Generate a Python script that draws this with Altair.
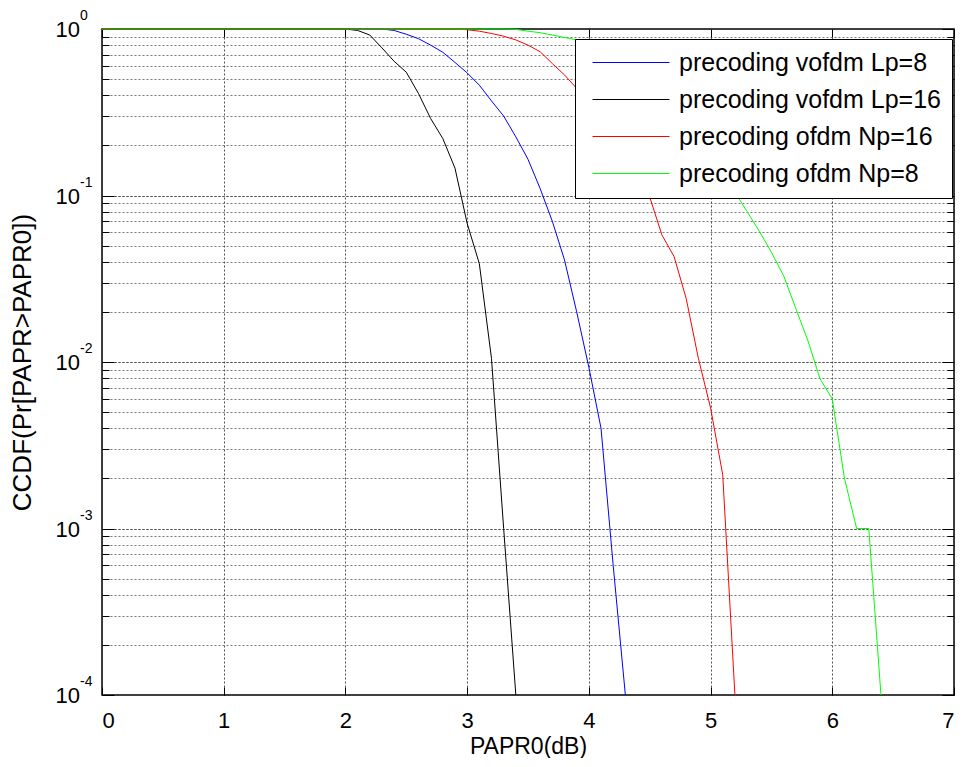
import altair as alt
import pandas as pd

# ---------------- data ----------------
series_names = ["precoding vofdm Lp=8", "precoding vofdm Lp=16",
                "precoding ofdm Np=16", "precoding ofdm Np=8"]
series_colors = ["#0000FF", "#000000", "#FF0000", "#00FF00"]

# precoding vofdm Lp=8 (blue)
blue_x = [0, 2.3, 2.4, 2.5, 2.6, 2.7, 2.8, 2.9, 3.0, 3.1, 3.2, 3.3, 3.4, 3.5,
          3.6, 3.7, 3.8, 3.9, 4.0, 4.1, 4.2, 4.3]
blue_y = [1.0, 1.0, 0.98, 0.93, 0.875, 0.80, 0.725, 0.63, 0.545, 0.46, 0.37,
          0.30, 0.225, 0.165, 0.11, 0.07, 0.041, 0.02, 0.0093, 0.0040, 0.0006, 0.0001]

# precoding vofdm Lp=16 (black)
black_x = [0, 2.0, 2.1, 2.2, 2.3, 2.4, 2.5, 2.6, 2.7, 2.8, 2.9, 3.0, 3.1, 3.2, 3.3, 3.4]
black_y = [1.0, 1.0, 0.98, 0.92, 0.77, 0.64, 0.55, 0.41, 0.29, 0.22, 0.146,
           0.068, 0.039, 0.0105, 0.001, 0.0001]

# precoding ofdm Np=16 (red)
red_x = [0, 2.9, 3.0, 3.1, 3.2, 3.3, 3.4, 3.5, 3.6, 3.7, 3.8, 3.9, 4.0, 4.1,
         4.2, 4.3, 4.4, 4.5, 4.6, 4.7, 4.8, 4.9, 5.0, 5.1, 5.2]
red_y = [1.0, 1.0, 0.99, 0.97, 0.94, 0.905, 0.86, 0.80, 0.73, 0.62, 0.53, 0.44,
         0.37, 0.30, 0.235, 0.18, 0.135, 0.098, 0.058, 0.043, 0.024, 0.0105,
         0.0053, 0.0021, 0.0001]

# precoding ofdm Np=8 (green)
green_x = [0, 3.3, 3.4, 3.5, 3.6, 3.7, 3.8, 3.9, 4.0, 4.1, 4.2, 4.3, 4.4, 4.5,
           4.6, 4.7, 4.8, 4.9, 5.0, 5.1, 5.2, 5.3, 5.4, 5.5, 5.6, 5.7, 5.8, 5.9,
           6.0, 6.1, 6.2, 6.3, 6.4]
green_y = [1.0, 1.0, 0.995, 0.97, 0.95, 0.92, 0.89, 0.86, 0.82, 0.77, 0.71, 0.64,
           0.56, 0.48, 0.40, 0.33, 0.26, 0.205, 0.16, 0.13, 0.105, 0.08, 0.061,
           0.0456, 0.033, 0.021, 0.0134, 0.0079, 0.006, 0.002, 0.001, 0.001, 0.0001]

x_ticks = [0, 1, 2, 3, 4, 5, 6, 7]
y_decades = [1e-4, 1e-3, 1e-2, 1e-1, 1.0]
y_exponents = ["-4", "-3", "-2", "-1", "0"]
y_minor = [m * 10.0 ** k for k in range(-4, 0) for m in range(2, 10)]
y_all = sorted(y_minor + y_decades)

x_title = "PAPR0(dB)"
y_title = "CCDF(Pr[PAPR>PAPR0])"

# ---------------- tables ----------------
rows = []
for name, xs_, ys_ in zip(series_names, [blue_x, black_x, red_x, green_x],
                          [blue_y, black_y, red_y, green_y]):
    for xv, yv in zip(xs_, ys_):
        rows.append({"series": name, "x": xv, "y": yv})
df = pd.DataFrame(rows)
df_lbl = pd.DataFrame({"y": y_decades, "base": ["10"] * 5, "exp": y_exponents})
df_one = pd.DataFrame({"x": [0.0], "y": [1.0]})

W, H = 852, 666
FONT = "Liberation Sans"
xs = alt.Scale(domain=[0, 7], nice=False, zero=False)
ys = alt.Scale(type="log", domain=[1e-4, 1], nice=False)
GRID_DASH = [2, 2]

lines = alt.Chart(df).mark_line(strokeWidth=1).encode(
    x=alt.X("x:Q", scale=xs, axis=alt.Axis(
        orient="bottom", values=x_ticks, format="d", labelFontSize=22,
        labelPadding=15, ticks=False, domain=False, grid=True,
        gridDash=GRID_DASH, gridColor="#333333", gridOpacity=0.85,
        title=x_title, titleFontSize=23, titleFontWeight="normal",
        titlePadding=4, labelFont=FONT, titleFont=FONT,
        labelColor="black", titleColor="black")),
    y=alt.Y("y:Q", scale=ys, axis=alt.Axis(
        orient="left", values=y_all, labels=False, ticks=False, domain=False,
        grid=True, gridDash=GRID_DASH, gridColor="#555555", gridOpacity=0.8,
        title=y_title, titleFontSize=26, titleFontWeight="normal",
        titlePadding=67, titleFont=FONT, titleColor="black")),
    color=alt.Color("series:N", sort=series_names,
                    scale=alt.Scale(domain=series_names, range=series_colors),
                    legend=alt.Legend(
                        title=None, orient="none", legendX=473, legendY=10,
                        fillColor="white", strokeColor="black", padding=11,
                        symbolType="stroke", symbolSize=5929, symbolStrokeWidth=1,
                        symbolOffset=6, labelOffset=9, labelFontSize=25,
                        labelFont=FONT, labelColor="black", rowPadding=11,
                        clipHeight=25, labelLimit=400)),
    order=alt.Order("x:Q"),
)

def tick_layer(xaxis, yaxis):
    return alt.Chart(df_one).mark_point(opacity=0).encode(
        x=alt.X("x:Q", scale=xs, axis=xaxis),
        y=alt.Y("y:Q", scale=ys, axis=yaxis),
    )

def ax(orient, offset, values, size):
    return alt.Axis(orient=orient, offset=offset, values=values, tickSize=size,
                    tickColor="black", tickWidth=1, labels=False, domain=False,
                    grid=False, title=None)

t1 = tick_layer(ax("top", -H, x_ticks, 8), ax("right", -W, y_decades, 12))
t2 = tick_layer(ax("bottom", -H, x_ticks, 8), ax("left", -W, y_decades, 12))
t3 = tick_layer(None, ax("right", -W, y_minor, 7))
t4 = tick_layer(None, ax("left", -W, y_minor, 7))
major_grid = tick_layer(None, alt.Axis(
    orient="left", values=y_decades, labels=False, ticks=False, domain=False,
    grid=True, gridDash=GRID_DASH, gridColor="#111111", gridOpacity=0.9,
    title=None))

base_lbl = alt.Chart(df_lbl).mark_text(
    align="right", baseline="middle", fontSize=22, font=FONT, color="black", dy=1
).encode(x=alt.value(-22), y=alt.Y("y:Q", scale=ys, axis=None), text="base:N")
exp_lbl = alt.Chart(df_lbl).mark_text(
    align="left", baseline="middle", fontSize=14, font=FONT, color="black", dy=-13
).encode(x=alt.value(-22), y=alt.Y("y:Q", scale=ys, axis=None), text="exp:N")

chart = alt.layer(
    major_grid, lines, t1, t2, t3, t4, base_lbl, exp_lbl
).resolve_axis(x="independent", y="independent").properties(
    width=W, height=H,
    autosize=alt.AutoSizeParams(type="none"),
    padding={"left": 94, "top": 21, "right": 1, "bottom": 63},
).configure(
    font=FONT
).configure_view(
    stroke="black", strokeWidth=1.5
)

chart.save("out.html", embed_options={"renderer": "svg", "actions": False})
